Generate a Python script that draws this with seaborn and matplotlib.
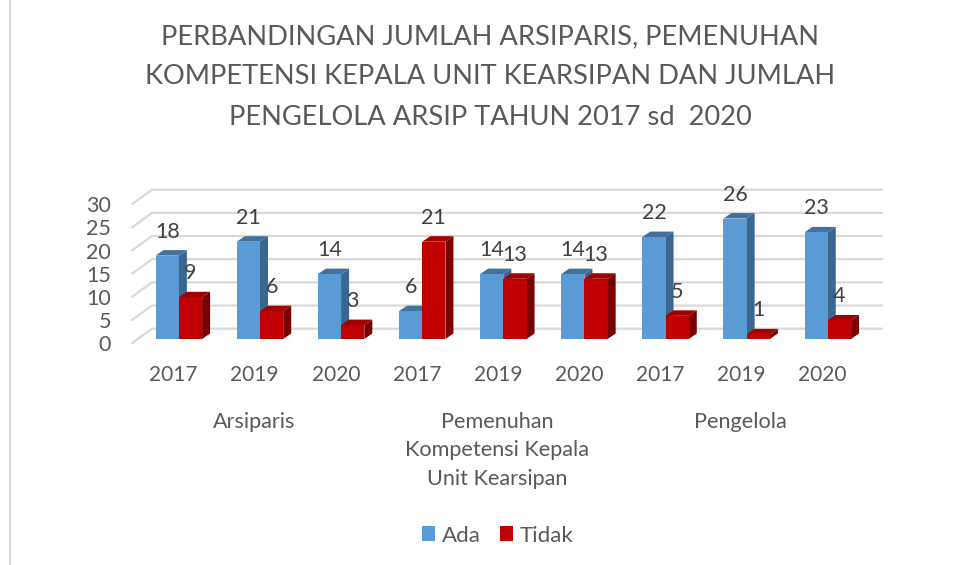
import matplotlib
matplotlib.use('Agg')
import matplotlib.pyplot as plt
import pandas as pd
import seaborn as sns
from matplotlib.lines import Line2D
from matplotlib.patches import Polygon

# values
groups = ['Arsiparis', 'Pemenuhan\nKompetensi Kepala\nUnit Kearsipan', 'Pengelola']
years = ['2017', '2019', '2020']
ada = [18, 21, 14, 6, 14, 14, 22, 26, 23]
tidak = [9, 6, 3, 21, 13, 13, 5, 1, 4]
y_ticks = [0, 5, 10, 15, 20, 25, 30]
title = 'PERBANDINGAN JUMLAH ARSIPARIS, PEMENUHAN\nKOMPETENSI KEPALA UNIT KEARSIPAN DAN JUMLAH\nPENGELOLA ARSIP TAHUN 2017 sd  2020'

W, H = 962, 565
sns.set_theme(style='white')
plt.rcParams['font.family'] = ['Lato', 'DejaVu Sans']

slots = [f'{g}|{y}' for g in groups for y in years]
df = pd.DataFrame({
    'slot': slots * 2,
    'status': ['Ada'] * 9 + ['Tidak'] * 9,
    'jumlah': ada + tidak,
})

fig = plt.figure(figsize=(W / 100, H / 100), dpi=100)
# front plane of the bars: x 138..868 px, y 339 (zero) .. 200 (30)
ax = fig.add_axes([138.3 / W, 1 - 339 / H, 730 / W, 139 / H])
sns.barplot(data=df, x='slot', y='jumlah', hue='status', order=slots,
            palette={'Ada': '#5B9BD5', 'Tidak': '#C00000'}, saturation=1,
            width=0.573, gap=0, legend=True, ax=ax, zorder=3, linewidth=0)
ax.set_xlim(-0.5, 8.5)
ax.set_ylim(0, 30)
ax.set_xlabel('')
ax.set_ylabel('')
ax.set_xticks([])
ax.set_yticks([])
sns.despine(ax=ax, left=True, bottom=True)
handles, labels = ax.get_legend_handles_labels()
ax.get_legend().remove()
ax.set_zorder(2)
ax.patch.set_alpha(0)
fig.canvas.draw()


def px(x, y, dx=0.0, dy=0.0):
    # data point to figure pixels, y measured from the top
    X, Y = ax.transData.transform((x, y))
    return X + dx, H - Y + dy


def fig_pts(points):
    return [(p[0] / W, 1 - p[1] / H) for p in points]


def add_poly(points, color, z):
    fig.add_artist(Polygon(fig_pts(points), closed=True, transform=fig.transFigure,
                           facecolor=color, edgecolor='none', zorder=z))


# gridlines with the wall and floor of the 3D box
for v in y_ticks:
    x0, y0 = px(-0.5, v, -6.3, 4.2)
    x1, y1 = px(-0.5, v, 13.7, -10.3)
    x2, _ = px(8.5, v, 13.7, -10.3)
    pts = fig_pts([(x0, y0), (x1, y1), (x2, y1)])
    fig.add_artist(Line2D([p[0] for p in pts], [p[1] for p in pts], color='#D9D9D9',
                          lw=1.6, transform=fig.transFigure, zorder=1))
    fig.text(111 / W, 1 - (y0 + 2) / H, str(v), ha='right', va='center', color='#595959',
             fontsize=15.5)

# depth faces: blue bars first so that the red ones sit in front
DX, DY = 8, -5.5
bars = [p for p in ax.patches if p.get_height() > 0]
bars = sorted(bars, key=lambda p: p.get_x())
side_colors = {'#5B9BD5': ('#41719C', '#3A6690'), '#C00000': ('#A00000', '#7A0000')}
for i, b in enumerate(bars):
    face = matplotlib.colors.to_hex(b.get_facecolor()).upper()
    top_col, side_col = side_colors[face]
    xl, xr, h = b.get_x(), b.get_x() + b.get_width(), b.get_height()
    lt, rt, rb = px(xl, h), px(xr, h), px(xr, 0)
    z = 4 + i
    add_poly([lt, rt, (rt[0] + DX, rt[1] + DY), (lt[0] + DX, lt[1] + DY)], top_col, z)
    add_poly([rt, rb, (rb[0] + DX, rb[1] + DY), (rt[0] + DX, rt[1] + DY)], side_col, z)
    # front face again so the stacking stays right
    add_poly([lt, rt, rb, px(xl, 0)], face, z)
    cx = (xl + xr) / 2
    X, Y = px(cx, h)
    fig.text(X / W, 1 - (Y - 24) / H, str(int(h)), ha='center', va='center',
             color='#404040', fontsize=15.5, zorder=40)

# multi level category axis
for i, g in enumerate(groups):
    for j, y in enumerate(years):
        X, _ = px(i * 3 + j, 0, -6.3)
        fig.text((X + 1) / W, 1 - 375 / H, y, ha='center', va='center', color='#595959', fontsize=15)
    X, _ = px(i * 3 + 1, 0, -6.3)
    fig.text(X / W, 1 - 411.5 / H, g, ha='center', va='top', color='#595959', fontsize=15.6,
             linespacing=1.56)

fig.text(490 / W, 1 - 77 / H, title, ha='center', va='center', color='#595959', fontsize=19.6,
         linespacing=1.76)

fig.legend(handles, labels, loc='center', bbox_to_anchor=(498 / W, 1 - 535.5 / H), ncol=2,
           frameon=False, fontsize=16, labelcolor='#595959', handlelength=0.58, handleheight=0.62,
           handletextpad=0.32, columnspacing=0.85)

# chart frame, only the left edge is inside the crop
fig.add_artist(Line2D([9.5 / W, 9.5 / W], [0, 1], color='#D9D9D9', lw=1.5, transform=fig.transFigure))

fig.savefig('out.png', dpi=100)
